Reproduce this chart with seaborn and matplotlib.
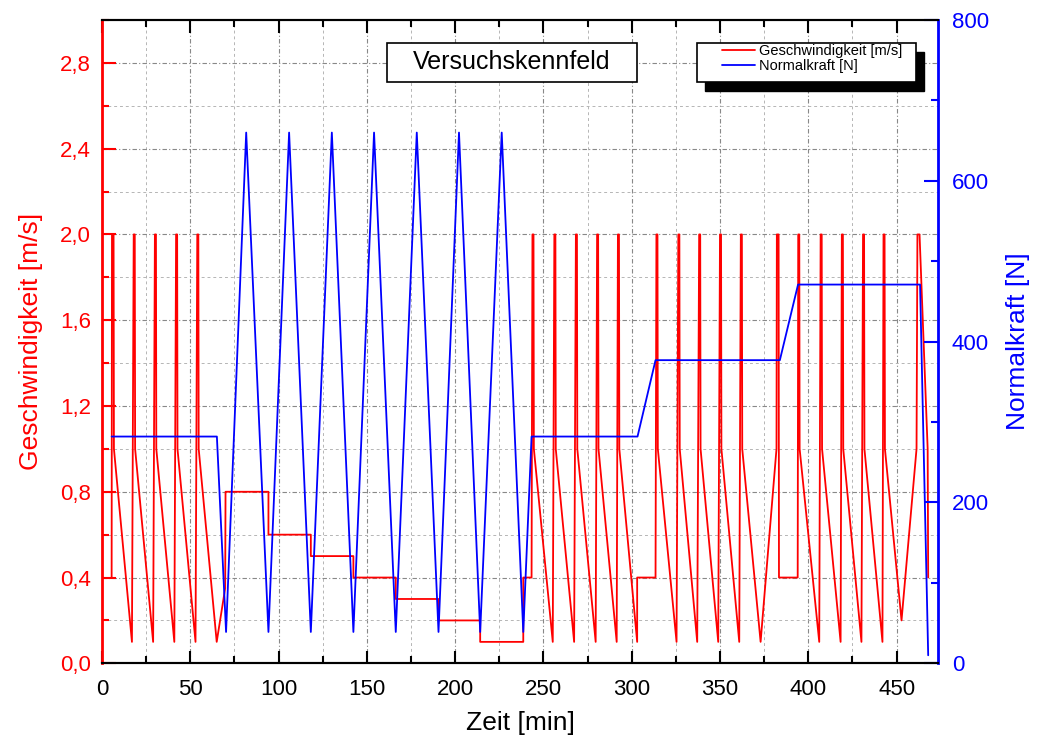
import matplotlib
matplotlib.use("Agg")
import matplotlib.pyplot as plt
from matplotlib.ticker import MultipleLocator, FuncFormatter
from matplotlib.patches import Rectangle
from matplotlib.lines import Line2D
import seaborn as sns
import pandas as pd

sns.set_style("white")
plt.rcParams["font.family"] = ["Liberation Sans", "DejaVu Sans"]
plt.rcParams["text.color"] = "black"
plt.rcParams["axes.labelcolor"] = "black"

# Geschwindigkeit [m/s] ueber Zeit [min]
zeit_v = [
    5.5, 5.7, 6.6, 6.8, 17.0,
    18.0, 18.6, 18.8, 29.0,
    30.0, 30.6, 30.8, 41.0,
    42.0, 42.6, 42.8, 53.0,
    54.0, 54.6, 54.8, 65.0,
    69.8, 70.0, 94.3, 94.3, 118.3, 118.3, 142.4, 142.4, 166.4, 166.4,
    190.6, 190.6, 214.2, 214.2, 238.6, 238.6, 243.3,
    243.8, 244.4, 244.6, 255.3,
    256.2, 256.8, 257.0, 267.4,
    268.4, 269.0, 269.2, 279.6,
    280.4, 281.0, 281.2, 291.5,
    292.2, 292.8, 293.0, 303.1, 303.1, 313.5,
    314.0, 314.6, 314.8, 325.4,
    326.4, 327.0, 327.2, 337.1,
    338.2, 338.8, 339.0, 349.0,
    350.0, 350.6, 350.8, 360.9,
    361.8, 362.4, 362.6, 373.0,
    382.0, 382.2, 383.2, 383.4, 394.0,
    394.3, 394.9, 395.1, 406.2,
    407.0, 407.6, 407.8, 418.3,
    419.0, 419.6, 419.8, 430.1,
    431.0, 431.6, 431.8, 442.0,
    442.6, 443.2, 443.4, 452.8,
    461.3, 461.8, 463.0, 467.6, 467.9,
]
geschw = [
    0.4, 2.0, 2.0, 1.0, 0.1,
    2.0, 2.0, 1.0, 0.1,
    2.0, 2.0, 1.0, 0.1,
    2.0, 2.0, 1.0, 0.1,
    2.0, 2.0, 1.0, 0.1,
    0.35, 0.8, 0.8, 0.6, 0.6, 0.5, 0.5, 0.4, 0.4, 0.3,
    0.3, 0.2, 0.2, 0.1, 0.1, 0.4, 0.4,
    2.0, 2.0, 1.0, 0.1,
    2.0, 2.0, 1.0, 0.1,
    2.0, 2.0, 1.0, 0.1,
    2.0, 2.0, 1.0, 0.1,
    2.0, 2.0, 1.0, 0.1, 0.4, 0.4,
    2.0, 2.0, 1.0, 0.1,
    2.0, 2.0, 1.0, 0.1,
    2.0, 2.0, 1.0, 0.1,
    2.0, 2.0, 1.0, 0.1,
    2.0, 2.0, 1.0, 0.1,
    1.0, 2.0, 2.0, 0.4, 0.4,
    2.0, 2.0, 1.0, 0.1,
    2.0, 2.0, 1.0, 0.1,
    2.0, 2.0, 1.0, 0.1,
    2.0, 2.0, 1.0, 0.1,
    2.0, 2.0, 1.0, 0.2,
    1.0, 2.0, 2.0, 1.0, 0.4,
]

# Normalkraft [N] ueber Zeit [min]
zeit_f = [
    5.5, 65.1, 70.3, 81.7, 94.3, 106.0, 118.3, 130.2, 142.4, 154.1,
    166.4, 178.3, 190.6, 202.2, 214.2, 226.4, 238.6, 243.3, 303.3,
    313.5, 383.9, 394.2, 463.3, 467.9,
]
normalkraft = [
    282, 282, 39, 660, 39, 660, 39, 660, 39, 660,
    39, 660, 39, 660, 39, 660, 39, 282, 282,
    377, 377, 471, 471, 10,
]

df_v = pd.DataFrame({"Zeit": zeit_v, "v": geschw})
df_f = pd.DataFrame({"Zeit": zeit_f, "F": normalkraft})

fig = plt.figure(figsize=(10.4, 7.49), dpi=100)
ax1 = fig.add_axes([0.098, 0.1144, 0.804, 0.8589])
ax2 = ax1.twinx()

sns.lineplot(data=df_v, x="Zeit", y="v", ax=ax1, color="#ff0000", lw=1.3,
             sort=False, estimator=None, legend=False)
sns.lineplot(data=df_f, x="Zeit", y="F", ax=ax2, color="#0000ff", lw=1.3,
             sort=False, estimator=None, legend=False)

ax1.set_xlim(0, 473.5)
ax1.set_ylim(0, 3.0)
ax2.set_ylim(0, 800)

ax1.xaxis.set_major_locator(MultipleLocator(50))
ax1.xaxis.set_minor_locator(MultipleLocator(25))
ax1.yaxis.set_major_locator(MultipleLocator(0.4))
ax1.yaxis.set_minor_locator(MultipleLocator(0.2))
ax2.yaxis.set_major_locator(MultipleLocator(200))
ax2.yaxis.set_minor_locator(MultipleLocator(100))
ax1.yaxis.set_major_formatter(FuncFormatter(lambda v, p: f"{v:.1f}".replace(".", ",")))

ax1.grid(which="major", color="#888888", ls=(0, (4, 2, 1, 2)), lw=0.8)
ax1.grid(which="minor", color="#b5b5b5", ls=(0, (3, 3)), lw=0.7)
ax2.grid(False)

ax1.tick_params(axis="x", which="both", direction="in", top=True, bottom=True,
                colors="black", labelsize=16, pad=11, width=1.5)
ax1.tick_params(axis="x", which="major", length=9)
ax1.tick_params(axis="x", which="minor", length=5)
ax1.tick_params(axis="y", which="both", direction="in", left=True, colors="#ff0000",
                labelsize=16, pad=8, width=1.5)
ax1.tick_params(axis="y", which="major", length=10)
ax1.tick_params(axis="y", which="minor", length=5)
ax2.tick_params(axis="y", which="both", direction="in", right=True, colors="#0000ff",
                labelsize=16, pad=10, width=1.5)
ax2.tick_params(axis="y", which="major", length=10)
ax2.tick_params(axis="y", which="minor", length=5)

for ax in (ax1, ax2):
    for s in ax.spines.values():
        s.set_linewidth(1.5)
        s.set_color("black")
ax1.spines["left"].set_color("#ff0000")
ax1.spines["left"].set_linewidth(2)
ax1.spines["right"].set_visible(False)
ax2.spines["left"].set_visible(False)
ax2.spines["right"].set_color("#0000ff")
ax2.spines["right"].set_linewidth(2)

ax1.set_xlabel("Zeit [min]", fontsize=19, labelpad=8, color="black")
ax1.set_ylabel("Geschwindigkeit [m/s]", fontsize=19, color="#ff0000", labelpad=12)
ax2.set_ylabel("Normalkraft [N]", fontsize=19, color="#0000ff", labelpad=12)

# title box
ax2.add_patch(Rectangle((0.341, 0.9036), 0.299, 0.0607, transform=ax2.transAxes,
                        facecolor="white", edgecolor="black", lw=1.2, zorder=6))
ax2.text(0.4905, 0.934, "Versuchskennfeld", transform=ax2.transAxes, fontsize=18,
         color="black", ha="center", va="center", zorder=7)

# legend box with black shadow
ax2.add_patch(Rectangle((0.7213, 0.8902), 0.2615, 0.0607, transform=ax2.transAxes,
                        facecolor="black", edgecolor="black", lw=1, zorder=6))
ax2.add_patch(Rectangle((0.7116, 0.9036), 0.2615, 0.0607, transform=ax2.transAxes,
                        facecolor="white", edgecolor="black", lw=1.2, zorder=6.5))
handles = [Line2D([], [], color="#ff0000", lw=1.3), Line2D([], [], color="#0000ff", lw=1.3)]
leg = ax2.legend(handles, ["Geschwindigkeit [m/s]", "Normalkraft [N]"],
                 loc="upper left", bbox_to_anchor=(0.741, 0.963), frameon=False,
                 fontsize=10.5, handlelength=2.3, handletextpad=0.3, labelspacing=0.1,
                 borderpad=0, borderaxespad=0)
for t in leg.get_texts():
    t.set_color("black")
leg.set_zorder(7)

fig.savefig("out.png", dpi=100)
